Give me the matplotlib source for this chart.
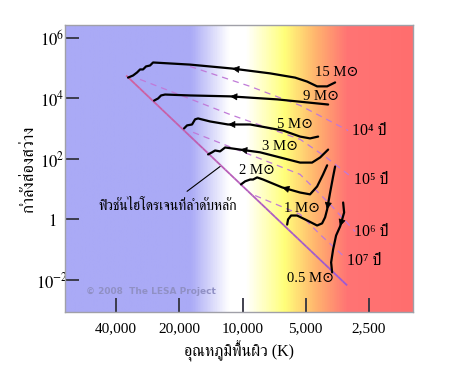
import numpy as np
import matplotlib.pyplot as plt
from matplotlib import font_manager
from matplotlib.colors import LinearSegmentedColormap
from matplotlib.collections import LineCollection
from fontTools.ttLib import TTFont


def thai_families():
    # look for any installed font that covers the Thai block, serif faces first
    found = []
    files = set(f.fname for f in font_manager.fontManager.ttflist)
    files |= set(font_manager.findSystemFonts())
    for fn in sorted(files):
        try:
            tt = TTFont(fn, fontNumber=0, lazy=True)
            cmap = tt.getBestCmap() or {}
        except Exception:
            continue
        if 0x0E01 in cmap and 0x0E33 in cmap:
            try:
                font_manager.fontManager.addfont(fn)
                name = font_manager.FontProperties(fname=fn).get_name()
            except Exception:
                continue
            if name not in found:
                found.append(name)
    pref = ('Norasi', 'Kinnari', 'Serif', 'Garuda')
    found.sort(key=lambda n: min([i for i, p in enumerate(pref) if p in n] + [9]))
    return found


plt.rcParams['mathtext.fontset'] = 'stix'
serif = ['Liberation Serif', 'DejaVu Serif', 'DejaVu Sans']
thai = ['Liberation Serif'] + thai_families() + ['DejaVu Sans']

# evolutionary tracks: surface temperature (K) and log10 luminosity (Lsun),
# listed from the start of the track (right) to the main sequence (left)
t15 = [3624, 3955, 4415, 4930, 5620, 7390, 11210, 17770, 26660, 27550, 28790, 29750, 30740, 31770, 33190, 35060]
l15 = [4.53, 4.40, 4.40, 4.56, 4.69, 4.83, 4.99, 5.12, 5.19, 5.09, 5.06, 4.96, 4.96, 4.86, 4.76, 4.69]
t9 = [3912, 4930, 6840, 11460, 17770, 23370, 24420, 25230, 26360]
l9 = [3.80, 3.87, 3.97, 4.07, 4.10, 4.13, 4.10, 4.00, 3.93]
t5 = [4365, 4770, 5320, 6410, 9200, 11720, 14270, 16280, 16820, 17390, 18360, 18980]
l5 = [2.74, 2.68, 2.74, 2.94, 3.14, 3.14, 3.24, 3.34, 3.31, 3.14, 3.11, 3.01]
t3 = [3912, 4270, 4665, 5320, 6620, 8250, 10270, 12100, 12790, 13510, 13960, 14580]
l3 = [2.31, 2.05, 1.88, 1.88, 2.05, 2.22, 2.31, 2.38, 2.25, 2.28, 2.22, 2.15]
t2 = [3955, 4135, 4415, 4770, 5320, 6480, 7980, 8520, 8905, 9200, 9720, 10160]
l2 = [1.79, 1.49, 1.09, 0.83, 0.89, 1.06, 1.32, 1.39, 1.32, 1.32, 1.26, 1.16]
t1 = [3624, 3704, 3828, 3955, 4045, 4180, 4415, 4930, 5500, 5870, 6070, 6130]
l1 = [1.75, 1.42, 0.89, 0.33, 0.07, -0.13, -0.20, -0.03, 0.13, 0.13, 0.00, -0.17]
t05 = [3319, 3283, 3430, 3585, 3704, 3786, 3745]
l05 = [0.56, 0.23, -0.23, -0.53, -0.99, -1.42, -1.75]

tracks = [(t15, l15), (t9, l9), (t5, l5), (t3, l3), (t2, l2), (t1, l1), (t05, l05)]
arrow_idx = [6, 3, 5, 6, 5, 3, 2]
mass_labels = ['15 M⊙', '9 M⊙', '5 M⊙', '3 M⊙', '2 M⊙', '1 M⊙', '0.5 M⊙']
mass_lab_t = [3545, 4227, 5620, 6620, 8520, 5204, 4715]
mass_lab_l = [4.86, 4.07, 3.14, 2.41, 1.62, 0.36, -1.95]

# isochrones
iso_t = [[17770, 12790, 9200, 5320, 3142],
         [30740, 11460, 5320, 4045, 3008],
         [17190, 7390, 5320, 3828, 2911],
         [8710, 5320, 4270, 3247]]
iso_l = [[5.06, 4.73, 4.40, 3.77, 2.94],
         [4.63, 3.47, 2.65, 2.08, 1.39],
         [2.88, 1.88, 1.49, 0.50, -0.40],
         [0.79, 0.17, -0.50, -1.26]]
iso_labels = ['10⁴ ปี', '10⁵ ปี', '10⁶ ปี', '10⁷ ปี']
iso_lab_t = [2496, 2441, 2441, 2636]
iso_lab_l = [2.94, 1.29, -0.43, -1.36]

# zero-age main sequence
ms_t = [35800, 3177]
ms_l = [4.76, -2.18]

xticks = [40000, 20000, 10000, 5000, 2500]
xticklabels = ['40,000', '20,000', '10,000', '5,000', '2,500']
yticks = [1e6, 1e4, 1e2, 1, 1e-2]
yticklabels = ['$10^{6}$', '$10^{4}$', '$10^{2}$', '$1$', '$10^{-2}$']

fig = plt.figure(figsize=(4.5, 3.69), dpi=100)
ax = fig.add_axes([0.1444, 0.1545, 0.7734, 0.7778])
ax.set_xscale('log')
ax.set_yscale('log')
ax.set_xlim(70000, 1543)
ax.set_ylim(10**-3.06, 10**6.43)

# colour background
bg = LinearSegmentedColormap.from_list('bg', [
    (0.0, '#aaaaf6'), (0.36, '#aaaaf6'), (0.47, '#ffffff'), (0.52, '#ffffff'),
    (0.63, '#ffff7a'), (0.72, '#ffb46e'), (0.81, '#ff7474'), (1.0, '#ff6e6e')])
ax.imshow(np.linspace(0, 1, 400)[None, :], cmap=bg, aspect='auto',
          extent=[0, 1, 0, 1], transform=ax.transAxes, zorder=0)

# main sequence with a pink-to-purple gradient
mt = np.logspace(np.log10(ms_t[0]), np.log10(ms_t[1]), 50)
ml = np.interp(np.log10(mt), np.log10(ms_t[::-1]), ms_l[::-1])
pts = np.column_stack([mt, 10**ml])
segs = np.stack([pts[:-1], pts[1:]], axis=1)
ms_cmap = LinearSegmentedColormap.from_list('ms', ['#d2609e', '#9a5ad6'])
lc = LineCollection(segs, cmap=ms_cmap, linewidths=1.3, zorder=2)
lc.set_array(np.linspace(0, 1, len(segs)))
ax.add_collection(lc)

for it, il in zip(iso_t, iso_l):
    ax.plot(it, 10**np.array(il), color='#c07ad8', lw=0.9, ls=(0, (5, 4)), zorder=2)
for lab, x, y in zip(iso_labels, iso_lab_t, iso_lab_l):
    ax.text(x, 10**y, lab, family=thai, fontsize=11.5, ha='center', va='center', zorder=4)

for (tt, ll), i in zip(tracks, arrow_idx):
    ll = 10**np.array(ll)
    ax.plot(tt, ll, color='black', lw=1.6, zorder=3, solid_capstyle='round')
    tail = (np.sqrt(tt[i - 1] * tt[i]), np.sqrt(ll[i - 1] * ll[i]))
    ax.annotate('', xy=(tt[i], ll[i]), xytext=tail,
                arrowprops=dict(arrowstyle='-|>', color='black', lw=0.5,
                                mutation_scale=11, shrinkA=0, shrinkB=0), zorder=3)
for lab, x, y in zip(mass_labels, mass_lab_t, mass_lab_l):
    ax.text(x, 10**y, lab, family=serif, fontsize=10.5, ha='center', va='center', zorder=4)

ax.annotate('', xy=(12790, 10**1.75), xytext=(18360, 10**0.93),
            arrowprops=dict(arrowstyle='-', color='black', lw=0.8, shrinkA=0, shrinkB=0))
ax.text(22620, 10**0.43, 'ฟิวชันไฮโดรเจนที่ลำดับหลัก', family=thai, fontsize=10,
        ha='center', va='center', zorder=4)

ax.text(0.06, 0.073, '© 2008  The LESA Project', transform=ax.transAxes,
        fontsize=6.5, fontweight='bold', color='#9090c4', ha='left', va='center')

ax.set_xticks(xticks)
ax.set_xticklabels(xticklabels, family=serif, fontsize=11)
ax.set_yticks(yticks)
ax.set_yticklabels(yticklabels, fontsize=12, ha='center')
ax.minorticks_off()
ax.tick_params(axis='both', direction='in', length=10, width=1.3, color='#333340')
ax.tick_params(axis='y', pad=9)
ax.tick_params(axis='x', pad=7)
ax.tick_params(top=False, right=False)
for s in ax.spines.values():
    s.set_color('#a0a0a8')
    s.set_linewidth(1)

ax.set_xlabel('อุณหภูมิพื้นผิว (K)', family=thai, fontsize=11.5, labelpad=4)
ax.set_ylabel('กำลังส่องสว่าง', family=thai, fontsize=12)
ax.yaxis.set_label_coords(-0.08, 0.5)

fig.savefig('out.png', dpi=100)
